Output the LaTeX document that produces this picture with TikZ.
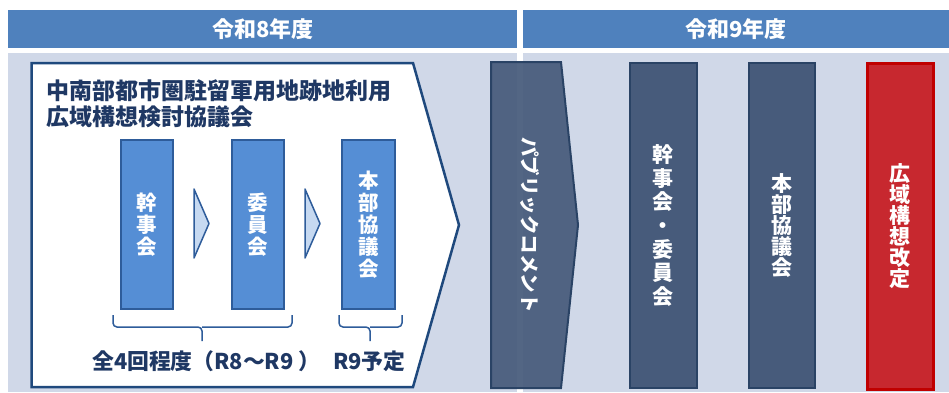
\documentclass[tikz,border=0pt]{standalone}
\usepackage{fontspec}
\newfontfamily\jp{Noto Sans CJK JP}
\definecolor{hdr}{HTML}{4F81BD}
\definecolor{bgc}{HTML}{D0D8E8}
\definecolor{navy}{HTML}{1F497D}
\definecolor{ttl}{HTML}{1F3864}
\definecolor{bbox}{HTML}{558ED5}
\definecolor{bline}{HTML}{2E5C9A}
\definecolor{chev}{HTML}{C6D9F1}
\definecolor{slate}{HTML}{475B7B}
\definecolor{slateline}{HTML}{2A4365}
\definecolor{redf}{HTML}{C7282F}
\definecolor{redl}{HTML}{C00000}
\tikzset{
  hdrbar/.style={fill=hdr, draw=none, text=white, font={\jp\bfseries\fontsize{22}{24}\selectfont}},
  bluebox/.style={fill=bbox, draw=bline, line width=1.5pt, text=white, align=center, inner sep=0pt,
     font={\jp\bfseries\fontsize{20.5}{22}\selectfont}},
  darkbox/.style={fill=slate, draw=slateline, line width=2pt, text=white, align=center, inner sep=0pt,
     font={\jp\bfseries\fontsize{21}{23.7}\selectfont}},
  redbox/.style={fill=redf, draw=redl, line width=3pt, text=white, align=center, inner sep=0pt,
     font={\jp\bfseries\fontsize{21}{21}\selectfont}},
  chevshape/.style={fill=chev, draw=bline, line width=1.5pt, line join=round},
  bracestyle/.style={draw=bline, line width=1.5pt, rounded corners=4pt},
  navytext/.style={text=ttl, font={\jp\bfseries\fontsize{23}{26}\selectfont}, inner sep=0pt},
  bottomtext/.style={navytext, font={\jp\bfseries\fontsize{21.8}{26}\selectfont}},
}
\begin{document}
\begin{tikzpicture}[x=1pt,y=-1pt]
\useasboundingbox (0,0) rectangle (949,392);
\fill[white] (0,0) rectangle (949,392);
% header bars
\node[hdrbar, minimum width=509pt, minimum height=38pt, anchor=north west] (h8) at (8,9.5) {令和8年度};
\node[hdrbar, minimum width=426pt, minimum height=38pt, anchor=north west] (h9) at (523,9.5) {令和9年度};
% background
\fill[bgc] (8,53) rectangle (517,392);
\fill[bgc] (523,53) rectangle (949,392);
% pentagon
\draw[navy, line width=2.5pt, fill=white, line join=miter] (31.5,63) -- (413,63) -- (459,225) -- (413,387) -- (31.5,387) -- cycle;
\node[navytext, anchor=north west, align=left] (title) at (46,79) {中南部都市圏駐留軍用地跡地利用\\広域構想検討協議会};
% blue boxes
\node[bluebox, minimum width=52pt, minimum height=169pt] (b1) at (147,224.5) {幹\\事\\会};
\node[bluebox, minimum width=52pt, minimum height=169pt] (b2) at (258,224.5) {委\\員\\会};
\node[bluebox, minimum width=53pt, minimum height=169pt] (b3) at (368.5,224.5) {本\\部\\協\\議\\会};
% chevrons
\draw[chevshape] (194,189) -- (209,223.5) -- (194,258) -- cycle;
\draw[chevshape] (305,189) -- (320,223.5) -- (305,258) -- cycle;
% braces
\coordinate (l1) at (113,315); \coordinate (l2) at (292,315); \coordinate (lt) at (202,341);
\draw[bracestyle] (l1) -- (113,327) -- (202,327) -- (lt);
\draw[bracestyle] (202,327) -- (292,327) -- (l2);
\coordinate (r1) at (339,315); \coordinate (r2) at (402,315); \coordinate (rt) at (370,341);
\draw[bracestyle] (r1) -- (339,327) -- (370,327) -- (rt);
\draw[bracestyle] (370,327) -- (402,327) -- (r2);
\node[bottomtext, anchor=west] (cnt) at (92,361) {全4回程度（R8～R9 ）};
\node[bottomtext, anchor=west] (r9) at (333,361) {R9予定};
% right side
\fill[white] (517,53) rectangle (523,392);
\path[fill=slate, fill opacity=0.93, draw=slateline, line width=2pt, line join=miter]
   (491,62) -- (561,62) -- (578,225) -- (561,388) -- (491,388) -- cycle;
\node[text=white, rotate=-90, font={\jp\bfseries\fontsize{19.5}{22}\selectfont}, inner sep=0pt] (pc) at (530,225) {パブリックコメント};
\node[darkbox, minimum width=67pt, minimum height=325pt] (d1) at (663,225.5) {幹\\事\\会\\・\\委\\員\\会};
\node[darkbox, minimum width=66pt, minimum height=325pt, font={\jp\bfseries\fontsize{21}{20.8}\selectfont}] (d2) at (782,225.5) {本\\部\\協\\議\\会};
\node[redbox, minimum width=66pt, minimum height=326pt] (rd) at (900,226.5) {広\\域\\構\\想\\改\\定};
\end{tikzpicture}
\end{document}
